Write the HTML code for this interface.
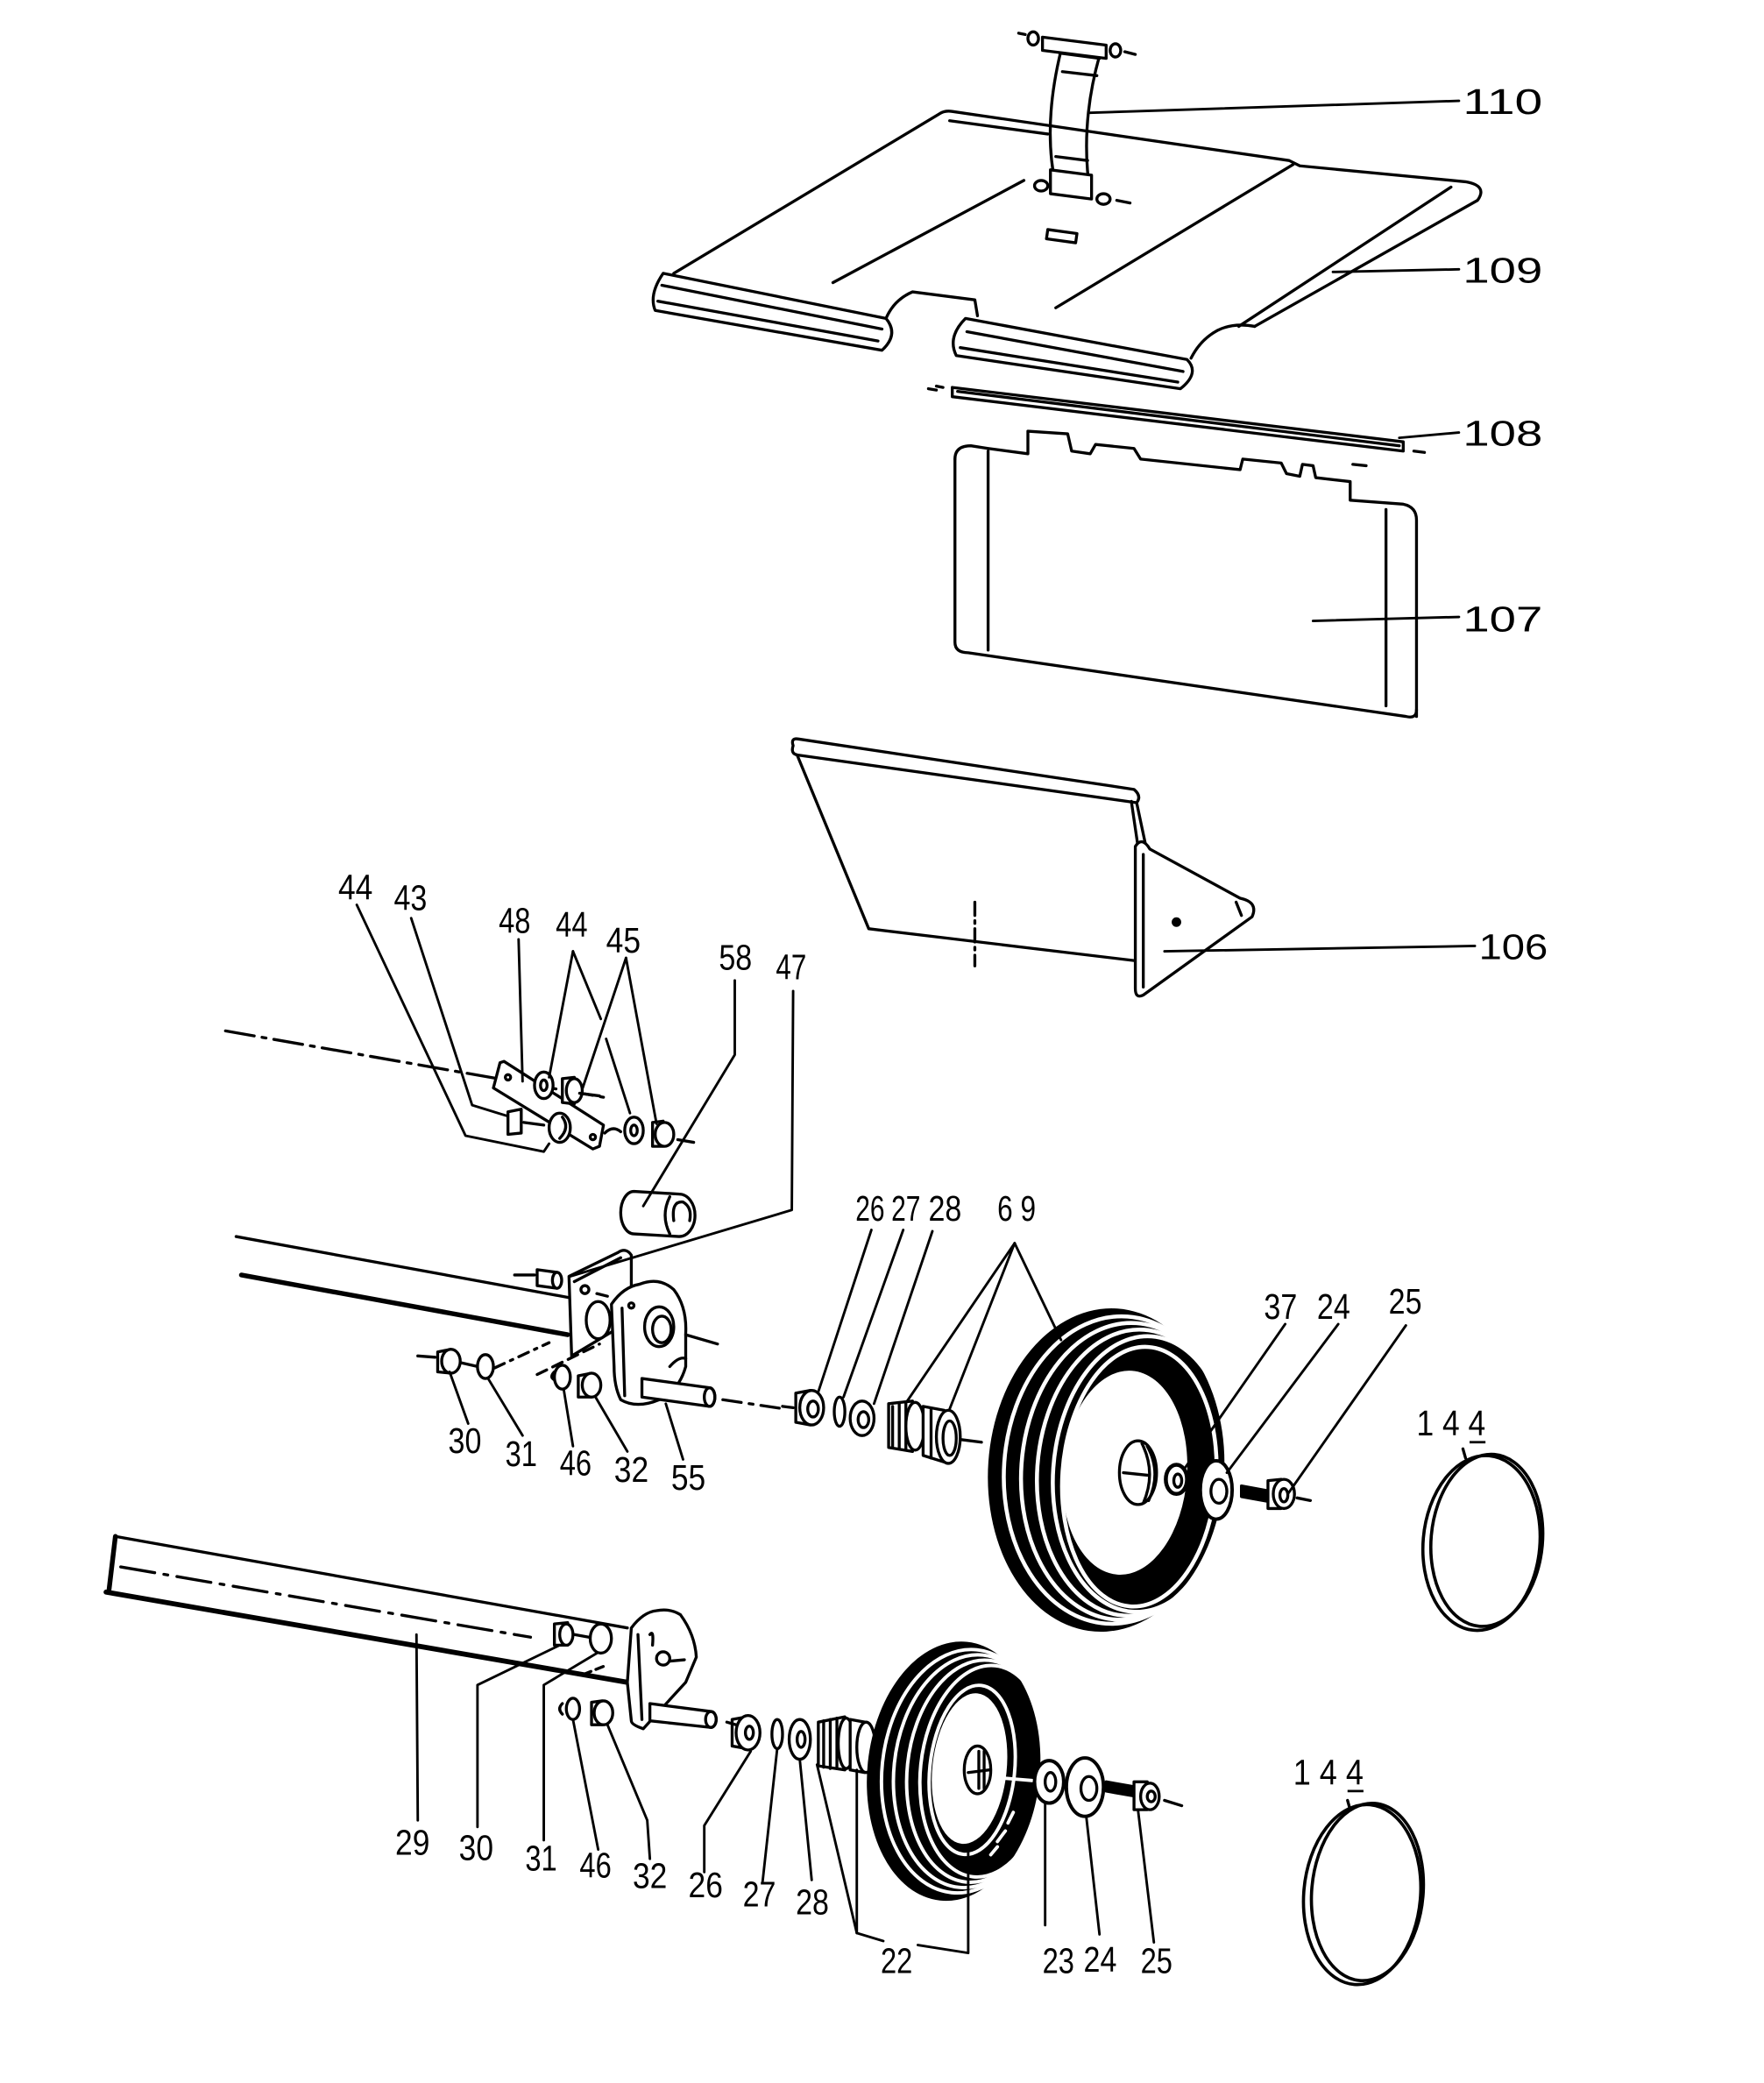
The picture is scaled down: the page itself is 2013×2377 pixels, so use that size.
<!DOCTYPE html>
<html><head><meta charset="utf-8">
<style>
html,body{margin:0;padding:0;background:#fff;}
svg{display:block;}
text{font-family:"Liberation Sans Narrow","Liberation Sans",sans-serif;font-size:27px;fill:#000;stroke:none;}
</style></head><body>
<svg width="2013" height="2377" viewBox="0 0 1330 1570" preserveAspectRatio="none" xmlns="http://www.w3.org/2000/svg">
<rect x="0" y="0" width="1330" height="1570" fill="#fff"/>
<g fill="none" stroke="#000" stroke-width="2.2" stroke-linejoin="round" stroke-linecap="round">

<!-- ===== 109 tray ===== -->
<path d="M508,206 L708,86 Q712,83 718,84 L972,121 L980,125 L1105,137 Q1122,140 1114,151 L946,246"/>
<path d="M716,91 L790,101"/>
<path d="M946,246 Q930,243 918,249 Q905,256 898,270"/>
<!-- left roll -->
<path d="M500,206 L668,240 Q678,252 665,264 L494,234 Q489,222 500,206 Z" fill="#fff"/>
<path d="M499,215 L665,248"/>
<path d="M496,227 L662,257"/>
<!-- notch -->
<path d="M668,240 Q674,226 688,220 L735,226 L737,238"/>
<!-- right roll -->
<path d="M728,240 L895,271 Q905,281 890,293 L721,268 Q714,254 728,240 Z" fill="#fff"/>
<path d="M729,250 L892,280"/>
<path d="M724,262 L888,288"/>
<!-- inner lines -->
<path d="M772,136 L628,213"/>
<path d="M975,124 L796,232"/>
<path d="M1094,141 L934,246"/>
<path d="M790,173 L812,176 L811,183 L789,180 Z"/>

<!-- ===== 110 clip ===== -->
<path d="M800,38 Q786,95 796,140" fill="none"/>
<path d="M829,42 Q814,95 822,146"/>
<path d="M799,40 L829,44" />
<path d="M786,28 L834,34 L834,44 L786,38 Z" fill="#fff"/>
<ellipse cx="779" cy="29" rx="4" ry="5" fill="#fff"/>
<ellipse cx="841" cy="38" rx="4" ry="5" fill="#fff"/>
<path d="M768,25 L773,26 M848,39 L856,41"/>
<path d="M801,54 L827,57 M796,118 L820,121"/>
<path d="M792,128 L823,132 L823,150 L792,146 Z" fill="#fff"/>
<ellipse cx="785" cy="140" rx="5" ry="4" fill="#fff"/>
<ellipse cx="832" cy="150" rx="5" ry="4" fill="#fff"/>
<path d="M842,151 L852,153"/>

<!-- ===== 108 rod ===== -->
<path d="M718,292 L1058,333 L1058,340 L718,299 Z"/>
<path d="M722,295 L1055,336"/>
<path d="M706,291 L711,292 M1066,340 L1074,341"/>

<!-- ===== 107 panel ===== -->
<path d="M720,346 Q720,336 732,336 L745,338 L775,342 L775,325 L805,327 L808,340 L822,342 L826,335 L855,338 L860,346 L935,354 L937,346 L966,349 L970,357 L980,359 L982,350 L990,351 L992,360 L1018,363 L1018,377 L1058,380 Q1068,382 1068,392 L1068,540"/>
<path d="M720,346 L720,484 Q720,492 730,492 L1060,540 Q1068,542 1068,535"/>
<path d="M745,340 L745,490"/>
<path d="M1045,384 L1045,532"/>
<path d="M700,293 L706,294 M1020,350 L1030,351"/>

<!-- ===== 106 deflector ===== -->
<path d="M598,562 Q596,556 602,557 L855,595 Q861,600 857,605 L601,569 Q596,568 598,562 Z"/>
<path d="M601,569 L655,700 L855,724"/>
<path d="M857,605 L864,638 M853,604 L858,638"/>
<path d="M856,638 Q861,630 867,640 L935,677 Q949,680 944,691 L862,750 Q856,753 856,745 Z" fill="#fff"/>
<path d="M862,644 L862,744"/>
<path d="M932,680 L936,690"/>
<circle cx="887" cy="695" r="2.5" fill="#000"/>
<path d="M735,680 L735,728" stroke-dasharray="10 4 2 4"/>

<!-- ===== left bracket group (43,44,45,48) ===== -->
<path d="M170,777 L455,827" stroke-dasharray="22 6 3 6"/>
<path d="M511,859 L523,861"/>
<path d="M377,801 L372,820 L447,866 L452,864 L455,848 L380,800 Z" fill="#fff"/>
<circle cx="383" cy="812" r="2"/>
<circle cx="447" cy="857" r="2"/>
<ellipse cx="410" cy="818" rx="7" ry="10" fill="#fff"/>
<ellipse cx="410" cy="818" rx="2.5" ry="4"/>
<path d="M424,813 L433,812 L433,832 L424,831 Z" fill="#fff"/>
<ellipse cx="433" cy="822" rx="6" ry="9" fill="#fff"/>
<path d="M437,824 L452,826"/>
<path d="M383,838 L393,836 L393,854 L383,855 Z" fill="#fff"/>
<path d="M395,846 L410,848"/>
<ellipse cx="422" cy="850" rx="8" ry="11" fill="#fff"/>
<path d="M424,842 Q430,850 422,858"/>
<path d="M456,854 Q462,848 468,853"/>
<ellipse cx="478" cy="852" rx="7" ry="10" fill="#fff"/>
<ellipse cx="478" cy="852" rx="2.5" ry="4"/>
<path d="M492,846 L500,845 L500,864 L492,864 Z" fill="#fff"/>
<ellipse cx="501" cy="855" rx="7" ry="9" fill="#fff"/>
<!-- 58 clip -->
<path d="M478,898 L512,900 A12,16 0 0 1 512,932 L478,930 A10,16 0 0 1 478,898 Z" fill="#fff"/>
<path d="M505,930 Q498,916 505,902"/>
<path d="M508,920 Q506,905 515,906 Q522,910 520,920"/>

<!-- ===== mid tube & bracket ===== -->
<path d="M178,932 L429,978"/>
<path d="M182,961 L428,1006" stroke-width="3.6"/>
<path d="M429,962 L466,944 Q472,940 476,946 L476,995 L431,1022 Z" fill="#fff"/>
<path d="M433,966 L468,948"/>
<circle cx="441" cy="972" r="3"/>
<path d="M388,961 L403,961"/>
<path d="M405,957 L420,959 L420,971 L405,969 Z" fill="#fff"/>
<ellipse cx="420" cy="965" rx="3.5" ry="6" fill="#fff"/>
<path d="M450,975 L458,977"/>
<ellipse cx="451" cy="995" rx="9" ry="14" fill="#fff"/>
<path d="M461,983 Q470,970 482,968 Q497,962 508,972 Q518,985 517,1005 L517,1030 Q512,1048 497,1055 Q480,1062 468,1055 Q463,1045 463,1030 Z" fill="#fff"/>
<path d="M469,986 L471,1052"/>
<ellipse cx="497" cy="1000" rx="11" ry="15"/>
<ellipse cx="499" cy="1002" rx="7" ry="10"/>
<circle cx="476" cy="984" r="2"/>
<path d="M517,1006 L541,1013"/>
<path d="M505,1030 Q512,1022 517,1024"/>
<path d="M484,1039 L535,1046 A4,7 0 0 1 535,1060 L484,1053 Z" fill="#fff"/>
<ellipse cx="535" cy="1053" rx="4" ry="7"/>
<path d="M545,1055 L592,1062" stroke-dasharray="14 6 3 6"/>
<!-- 30,31,46,32 -->
<path d="M315,1022 L328,1023"/>
<path d="M330,1019 L340,1017 L340,1035 L330,1034 Z" fill="#fff"/>
<ellipse cx="340" cy="1026" rx="7" ry="9" fill="#fff"/>
<path d="M347,1027 L360,1030"/>
<ellipse cx="366" cy="1030" rx="6" ry="9" fill="#fff"/>
<path d="M373,1031 L414,1012" stroke-dasharray="8 5 2 5"/>
<path d="M405,1036 L452,1013" stroke-dasharray="8 5"/>
<path d="M418,1034 Q414,1038 418,1040"/>
<ellipse cx="424" cy="1038" rx="6" ry="9" fill="#fff"/>
<path d="M436,1037 L446,1035 L446,1053 L436,1053 Z" fill="#fff"/>
<ellipse cx="446" cy="1044" rx="7" ry="9" fill="#fff"/>

<!-- ===== mid wheel assembly ===== -->
<path d="M590,1060 L598,1061"/>
<path d="M600,1050 L611,1048 L611,1074 L600,1072 Z" fill="#fff"/>
<ellipse cx="612" cy="1061" rx="9" ry="13" fill="#fff"/>
<ellipse cx="613" cy="1062" rx="4" ry="6"/>
<ellipse cx="633" cy="1064" rx="4" ry="11" fill="#fff"/>
<ellipse cx="650" cy="1069" rx="9" ry="13" fill="#fff"/>
<ellipse cx="651" cy="1070" rx="4" ry="6"/>
<path d="M670,1058 L688,1056 L688,1094 L670,1091 Z" fill="#fff"/>
<path d="M673,1060 L673,1090 M678,1058 L678,1092 M683,1057 L683,1093"/>
<ellipse cx="690" cy="1075" rx="7" ry="18" fill="#fff"/>
<path d="M696,1060 L712,1063 L712,1102 L696,1097 Z" fill="#fff"/>
<path d="M702,1062 L702,1099"/>
<ellipse cx="715" cy="1083" rx="9" ry="20" fill="#fff"/>
<ellipse cx="716" cy="1084" rx="5" ry="13"/>
<path d="M724,1085 L740,1087"/>

<!-- mid wheel -->
<ellipse cx="834" cy="1108" rx="89" ry="122" fill="#000" stroke="none" transform="rotate(4 834 1108)"/>
<g stroke="#fff" stroke-width="3">
<ellipse cx="842" cy="1108" rx="85" ry="116" transform="rotate(4 842 1108)"/>
<ellipse cx="849" cy="1109" rx="79" ry="112" transform="rotate(4 849 1109)"/>
<ellipse cx="855" cy="1110" rx="73" ry="108" transform="rotate(4 855 1110)"/>
<ellipse cx="861" cy="1111" rx="67" ry="104" transform="rotate(4 861 1111)"/>
<ellipse cx="859" cy="1113" rx="58" ry="98" transform="rotate(4 859 1113)"/>
</g>
<ellipse cx="848" cy="1110" rx="47" ry="77" fill="#fff" stroke="none" transform="rotate(4 848 1110)"/>
<ellipse cx="858" cy="1110" rx="14" ry="24" fill="#fff"/>
<path d="M861,1088 Q872,1110 862,1133 M865,1090 Q876,1110 866,1131"/>
<path d="M847,1110 L866,1112"/>
<!-- 37, 24, 25 -->
<ellipse cx="887" cy="1115" rx="8" ry="11" fill="#fff" stroke-width="3"/>
<ellipse cx="888" cy="1116" rx="3" ry="5"/>
<ellipse cx="917" cy="1123" rx="12" ry="22" fill="#fff" stroke-width="2.6"/>
<ellipse cx="919" cy="1124" rx="6" ry="9"/>
<path d="M936,1120 L958,1124 L958,1132 L936,1128 Z" fill="#000"/>
<path d="M956,1116 L966,1115 L966,1137 L956,1137 Z" fill="#fff"/>
<ellipse cx="968" cy="1126" rx="8" ry="11" fill="#fff"/>
<ellipse cx="968" cy="1127" rx="3" ry="5"/>
<path d="M978,1129 L988,1131"/>

<!-- rings 144 -->
<ellipse cx="1117" cy="1163" rx="44" ry="66" stroke-width="2.4" transform="rotate(5 1117 1163)"/>
<ellipse cx="1121" cy="1161" rx="42" ry="65" stroke-width="2.4" transform="rotate(5 1121 1161)"/>
<ellipse cx="1027" cy="1428" rx="44" ry="68" stroke-width="2.4" transform="rotate(5 1027 1428)"/>
<ellipse cx="1031" cy="1426" rx="42" ry="67" stroke-width="2.4" transform="rotate(5 1031 1426)"/>
<path d="M1103,1092 L1105,1099 M1016,1357 L1018,1364"/>

<!-- ===== bottom tube 29 ===== -->
<path d="M87,1158 L473,1227"/>
<path d="M87,1158 L82,1200" stroke-width="3.6"/>
<path d="M80,1200 L473,1268" stroke-width="3.8"/>
<path d="M91,1181 L400,1234" stroke-dasharray="26 7 3 7"/>
<!-- 30 31 -->
<path d="M418,1224 L428,1223 L428,1240 L418,1240 Z" fill="#fff"/>
<ellipse cx="427" cy="1232" rx="5" ry="8" fill="#fff"/>
<path d="M433,1232 L444,1234"/>
<ellipse cx="453" cy="1235" rx="8" ry="11" fill="#fff"/>
<path d="M440,1262 L455,1256" stroke-dasharray="6 4"/>
<!-- lever -->
<path d="M476,1227 Q485,1215 495,1214 Q505,1212 513,1217 Q524,1232 525,1249 L517,1268 L506,1280 L495,1292 L485,1303 Q476,1300 476,1297 L473,1268 Z" fill="#fff"/>
<path d="M481,1232 L484,1296"/>
<circle cx="500" cy="1250" r="5"/>
<path d="M505,1252 L516,1251"/>
<path d="M490,1232 Q493,1228 492,1240"/>
<path d="M490,1284 L536,1290 A4,6 0 0 1 536,1302 L490,1297 Z" fill="#fff"/>
<ellipse cx="536" cy="1296" rx="4" ry="6"/>
<!-- 46 32 -->
<path d="M424,1284 Q420,1288 424,1292"/>
<ellipse cx="432" cy="1288" rx="5" ry="8" fill="#fff"/>
<path d="M446,1283 L454,1282 L454,1300 L446,1300 Z" fill="#fff"/>
<ellipse cx="455" cy="1291" rx="7" ry="9" fill="#fff"/>
<!-- 26 27 28 22 -->
<path d="M552,1296 L563,1294 L563,1318 L552,1316 Z" fill="#fff"/>
<ellipse cx="564" cy="1306" rx="9" ry="13" fill="#fff"/>
<ellipse cx="565" cy="1306" rx="3" ry="5"/>
<ellipse cx="586" cy="1307" rx="4" ry="11" fill="#fff"/>
<ellipse cx="603" cy="1311" rx="8" ry="15" fill="#fff"/>
<ellipse cx="604" cy="1311" rx="3" ry="6"/>
<path d="M617,1298 L637,1294 L637,1334 L617,1331 Z" fill="#fff"/>
<path d="M621,1297 L621,1332 M626,1296 L626,1333 M631,1295 L631,1333"/>
<ellipse cx="638" cy="1314" rx="6" ry="19" fill="#fff"/>
<path d="M641,1296 L652,1298 L652,1336 L641,1334 Z" fill="#fff"/>
<ellipse cx="653" cy="1317" rx="7" ry="19" fill="#fff"/>

<!-- bottom wheel -->
<ellipse cx="719" cy="1335" rx="65" ry="98" fill="#000" stroke="none" transform="rotate(6 719 1335)"/>
<g stroke="#fff" stroke-width="2.6">
<ellipse cx="727" cy="1335" rx="62" ry="92" transform="rotate(6 727 1335)"/>
<ellipse cx="732" cy="1335" rx="58" ry="88" transform="rotate(6 732 1335)"/>
<ellipse cx="737" cy="1335" rx="53" ry="84" transform="rotate(6 737 1335)"/>
<ellipse cx="742" cy="1335" rx="48" ry="80" transform="rotate(6 742 1335)"/>
<ellipse cx="733" cy="1334" rx="32" ry="64" transform="rotate(6 733 1334)"/>
</g>
<ellipse cx="731" cy="1333" rx="28" ry="57" fill="#fff" stroke="none" transform="rotate(6 731 1333)"/>
<ellipse cx="737" cy="1334" rx="10" ry="18" fill="#fff"/>
<path d="M738,1320 L738,1348 M742,1320 L742,1348 M730,1336 L746,1334"/>
<path d="M754,1340 L778,1342" stroke="#fff" stroke-width="2.5"/>
<path d="M747,1398 L752,1392 M752,1388 L758,1380 M760,1374 L764,1366" stroke="#fff" stroke-width="2.5"/>
<!-- 23 24 25 -->
<ellipse cx="791" cy="1343" rx="11" ry="16" fill="#fff" stroke-width="2.6"/>
<ellipse cx="792" cy="1343" rx="4" ry="7"/>
<ellipse cx="818" cy="1347" rx="14" ry="22" fill="#fff" stroke-width="2.6"/>
<ellipse cx="821" cy="1348" rx="6" ry="9"/>
<path d="M834,1343 L857,1347 L857,1354 L834,1350 Z" fill="#000"/>
<path d="M855,1343 L865,1343 L865,1364 L855,1364 Z" fill="#fff"/>
<ellipse cx="867" cy="1354" rx="7" ry="10" fill="#fff"/>
<ellipse cx="868" cy="1354" rx="3" ry="4"/>
<path d="M878,1357 L891,1361"/>
<path d="M555,1300 L548,1298"/>

<!-- ===== leaders ===== -->
<g stroke-width="1.9">
<path d="M822,85 L1100,76"/>
<path d="M1005,205 L1100,203"/>
<path d="M1055,330 L1100,326"/>
<path d="M990,468 L1100,465"/>
<path d="M878,717 L1112,713"/>
<!-- left group -->
<path d="M269,682 L351,856 L410,868 L414,862"/>
<path d="M310,692 L356,833 L382,841"/>
<path d="M391,708 L394,815"/>
<path d="M432,717 L414,812"/>
<path d="M432,717 L453,768"/>
<path d="M457,783 L475,839"/>
<path d="M472,722 L439,821"/>
<path d="M472,722 L495,847"/>
<path d="M554,739 L554,795 L485,909"/>
<path d="M598,747 L597,912 L430,962"/>
<!-- mid -->
<path d="M339,1034 L353,1073"/>
<path d="M368,1039 L394,1082"/>
<path d="M425,1047 L432,1090"/>
<path d="M449,1053 L473,1094"/>
<path d="M502,1058 L515,1100"/>
<path d="M657,927 L617,1049"/>
<path d="M681,927 L636,1053"/>
<path d="M703,928 L659,1058"/>
<path d="M765,937 L684,1056"/>
<path d="M765,937 L716,1062"/>
<path d="M765,937 L800,1010"/>
<path d="M969,998 L893,1107"/>
<path d="M1009,998 L925,1110"/>
<path d="M1060,999 L971,1126"/>
<!-- bottom -->
<path d="M314,1232 L315,1372"/>
<path d="M422,1240 L360,1270 L360,1377"/>
<path d="M450,1246 L410,1270 L410,1387"/>
<path d="M432,1296 L451,1394"/>
<path d="M458,1300 L488,1372 L490,1401"/>
<path d="M566,1320 L531,1376 L531,1411"/>
<path d="M586,1318 L575,1418"/>
<path d="M603,1326 L612,1417"/>
<path d="M616,1330 L646,1457 L666,1463"/>
<path d="M646,1334 L646,1457"/>
<path d="M730,1392 L730,1472 L692,1466"/>
<path d="M788,1359 L788,1451"/>
<path d="M819,1369 L829,1458"/>
<path d="M858,1364 L870,1464"/>
</g>
</g>

<!-- ===== labels ===== -->
<g>
<text x="1103" y="86" textLength="60" lengthAdjust="spacingAndGlyphs">110</text>
<text x="1103" y="213" textLength="60" lengthAdjust="spacingAndGlyphs">109</text>
<text x="1103" y="336" textLength="60" lengthAdjust="spacingAndGlyphs">108</text>
<text x="1103" y="476" textLength="60" lengthAdjust="spacingAndGlyphs">107</text>
<text x="1115" y="723" textLength="52" lengthAdjust="spacingAndGlyphs">106</text>

<text x="255" y="678" textLength="26" lengthAdjust="spacingAndGlyphs">44</text>
<text x="297" y="686" textLength="25" lengthAdjust="spacingAndGlyphs">43</text>
<text x="376" y="703" textLength="24" lengthAdjust="spacingAndGlyphs">48</text>
<text x="419" y="706" textLength="24" lengthAdjust="spacingAndGlyphs">44</text>
<text x="457" y="718" textLength="26" lengthAdjust="spacingAndGlyphs">45</text>
<text x="542" y="731" textLength="25" lengthAdjust="spacingAndGlyphs">58</text>
<text x="585" y="738" textLength="23" lengthAdjust="spacingAndGlyphs">47</text>

<text x="338" y="1095" textLength="25" lengthAdjust="spacingAndGlyphs">30</text>
<text x="381" y="1105" textLength="24" lengthAdjust="spacingAndGlyphs">31</text>
<text x="422" y="1112" textLength="24" lengthAdjust="spacingAndGlyphs">46</text>
<text x="463" y="1117" textLength="26" lengthAdjust="spacingAndGlyphs">32</text>
<text x="506" y="1123" textLength="26" lengthAdjust="spacingAndGlyphs">55</text>

<text x="645" y="920" textLength="22" lengthAdjust="spacingAndGlyphs">26</text>
<text x="672" y="920" textLength="22" lengthAdjust="spacingAndGlyphs">27</text>
<text x="700" y="920" textLength="25" lengthAdjust="spacingAndGlyphs">28</text>
<text x="752" y="920" textLength="29" lengthAdjust="spacingAndGlyphs">6 9</text>
<text x="953" y="994" textLength="25" lengthAdjust="spacingAndGlyphs">37</text>
<text x="993" y="994" textLength="25" lengthAdjust="spacingAndGlyphs">24</text>
<text x="1047" y="990" textLength="25" lengthAdjust="spacingAndGlyphs">25</text>
<text x="1068" y="1082" textLength="52" lengthAdjust="spacingAndGlyphs">1 4 4</text>

<text x="298" y="1398" textLength="26" lengthAdjust="spacingAndGlyphs">29</text>
<text x="346" y="1402" textLength="26" lengthAdjust="spacingAndGlyphs">30</text>
<text x="396" y="1410" textLength="24" lengthAdjust="spacingAndGlyphs">31</text>
<text x="437" y="1415" textLength="24" lengthAdjust="spacingAndGlyphs">46</text>
<text x="477" y="1423" textLength="26" lengthAdjust="spacingAndGlyphs">32</text>
<text x="519" y="1430" textLength="26" lengthAdjust="spacingAndGlyphs">26</text>
<text x="560" y="1437" textLength="25" lengthAdjust="spacingAndGlyphs">27</text>
<text x="600" y="1443" textLength="25" lengthAdjust="spacingAndGlyphs">28</text>
<text x="664" y="1487" textLength="24" lengthAdjust="spacingAndGlyphs">22</text>
<text x="786" y="1487" textLength="24" lengthAdjust="spacingAndGlyphs">23</text>
<text x="817" y="1486" textLength="25" lengthAdjust="spacingAndGlyphs">24</text>
<text x="860" y="1487" textLength="24" lengthAdjust="spacingAndGlyphs">25</text>
<text x="975" y="1345" textLength="53" lengthAdjust="spacingAndGlyphs">1 4 4</text>
</g>
<path d="M1108,1087 L1120,1087 M1016,1350 L1028,1350" stroke="#000" stroke-width="1.8"/>
</svg>
</body></html>
